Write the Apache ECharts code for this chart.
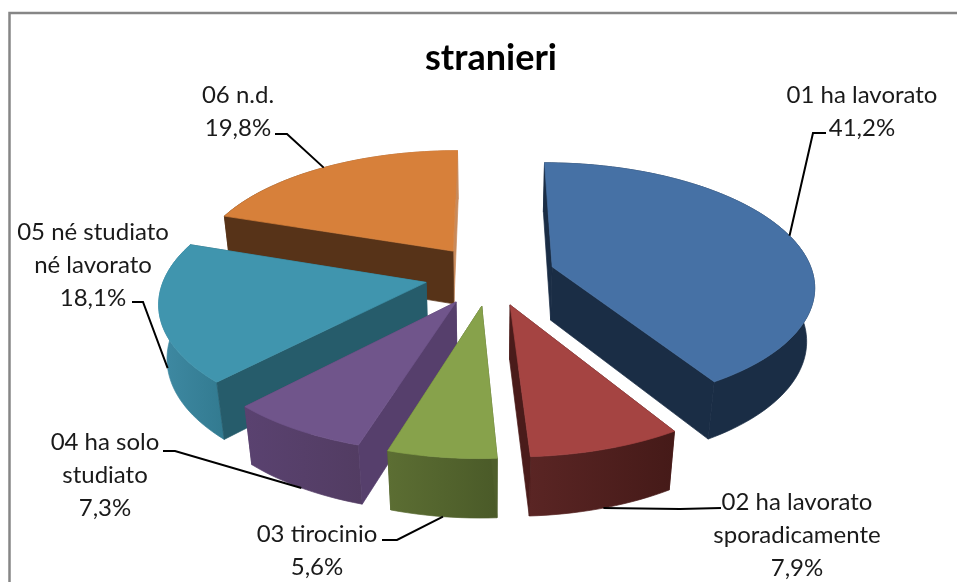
<!DOCTYPE html>
<html>
<head>
<meta charset="utf-8">
<title>stranieri</title>
<script src="https://cdn.jsdelivr.net/npm/echarts@6/dist/echarts.min.js"></script>
<style>
  html, body { margin: 0; padding: 0; background: #fff; }
  #chart { width: 957px; height: 582px; }
</style>
</head>
<body>
<div id="chart"></div>
<script>
// dati
var chartTitle = 'stranieri'
var categories = ['01 ha lavorato', '02 ha lavorato\nsporadicamente', '03 tirocinio', '04 ha solo\nstudiato', '05 né studiato\nné lavorato', '06 n.d.']
var values = [41.2, 7.9, 5.6, 7.3, 18.1, 19.8]

// ordine di disegno, dal fondo verso chi guarda
var drawOrder = [5, 0, 4, 1, 3, 2]

// colori: piano, parete radiale (fronte, retro), parete curva (sx, dx)
var topColors = ['#4671a5', '#a54442', '#87a24b', '#70558b', '#4095ae', '#d7803a']
var wallColors = ['#1a2d45', '#4a1b1a', '#4f5f2c', '#563f6c', '#265c6b', '#573318']
var backWallColors = ['#1a2d45', '#4a1b1a', '#4f5f2c', '#563f6c', '#265c6b', '#c98a5a']
var arcColors = [
  ['#1a2d45', '#1a2d45'],
  ['#5a2524', '#451a18'],
  ['#5c6e33', '#4a5a28'],
  ['#5a4270', '#523c62'],
  ['#3f8aa3', '#327a90'],
  ['#573318', '#c98a5a']
]

// prospettiva della torta
var cx = 490, cy = 275, radiusX = 261, radiusY = 121, depth = 55
var explode = 0.25, perspY = 0.142, perspZ = 0.025

// etichette: centro testo, prima riga, gomito della linea guida
var labelLayout = [
  { x: 862, y: 79, anchorZ: 0, leader: [[826, 133], [813, 133]] },
  { x: 797, y: 486, anchorZ: 1, leader: [[721, 508], [680, 509]] },
  { x: 317, y: 518, anchorZ: 1, leader: [[382, 540], [397, 540]] },
  { x: 105, y: 426, anchorZ: 1, leader: [[163, 451], [175, 451]] },
  { x: 93, y: 216, anchorZ: 1, leader: [[132, 302], [143, 302]] },
  { x: 238, y: 79, anchorZ: 0, leader: [[275, 134], [287, 134]] }
]

var total = values.reduce(function (a, b) { return a + b }, 0)
var startAngles = []
values.reduce(function (sum, v, i) {
  startAngles[i] = sum / total * 2 * Math.PI
  return sum + v
}, 0)

function formatPercent (v) {
  return v.toFixed(1).replace('.', ',') + '%'
}

// da coordinate sul disco (r, angolo da ore 12 in senso orario) allo schermo
function project (i, r, t, z) {
  var mid = startAngles[i] + values[i] / total * Math.PI
  var px = explode * Math.sin(mid) + r * Math.sin(t)
  var py = -explode * Math.cos(mid) - r * Math.cos(t)
  var f = 1 / (1 - perspY * py + perspZ * z)
  return [cx + radiusX * px * f, cy + (radiusY * py + depth * z) * f]
}

function polygon (points, fill, z2) {
  // il bordo dello stesso colore chiude le giunture tra le facce
  return { type: 'polygon', z2: z2, shape: { points: points }, style: { fill: fill, stroke: fill, lineWidth: 0.7 } }
}

function radialWall (i, t, color, z2) {
  return polygon([project(i, 0, t, 0), project(i, 1, t, 0), project(i, 1, t, 1), project(i, 0, t, 1)], color, z2)
}

function renderSlice (params, api) {
  var i = api.value(0)
  var a0 = startAngles[i]
  var a1 = a0 + api.value(1) / total * 2 * Math.PI
  var rank = drawOrder.indexOf(i) * 10
  var steps = Math.max(6, Math.round((a1 - a0) / 0.03))

  var rimTop = [], rimBottom = []
  for (var s = 0; s <= steps; s++) {
    var t = a0 + (a1 - a0) * s / steps
    rimTop.push(project(i, 1, t, 0))
    rimBottom.unshift(project(i, 1, t, 1))
  }

  // la parete piu lontana va sotto
  var backFirst = -Math.cos(a0) < -Math.cos(a1)
  var back = backFirst ? a0 : a1
  var front = backFirst ? a1 : a0

  var arcFill = new echarts.graphic.LinearGradient(0, 0, 1, 0, [
    { offset: 0, color: arcColors[i][0] },
    { offset: 1, color: arcColors[i][1] }
  ])

  var children = [
    radialWall(i, back, backWallColors[i], rank + 1),
    polygon(rimTop.concat(rimBottom), arcFill, rank + 2),
    radialWall(i, front, wallColors[i], rank + 3),
    polygon([project(i, 0, a0, 0)].concat(rimTop), topColors[i], rank + 4)
  ]

  // linea guida ed etichetta
  var lay = labelLayout[i]
  var anchor = project(i, 1, (a0 + a1) / 2, lay.anchorZ)
  children.push({
    type: 'polyline',
    z2: 100,
    shape: { points: lay.leader.concat([anchor]) },
    style: { stroke: '#000', lineWidth: 2, fill: null }
  })
  children.push({
    type: 'text',
    z2: 101,
    style: {
      x: lay.x,
      y: lay.y,
      text: categories[i] + '\n' + formatPercent(api.value(1)),
      align: 'center',
      verticalAlign: 'top',
      fill: '#1a1a1a',
      font: '24px Lato',
      lineHeight: 33
    }
  })
  return { type: 'group', children: children }
}

var myChart = echarts.init(document.getElementById('chart'), null, { renderer: 'canvas' })
var option = {
  backgroundColor: '#fff',
  animation: false,
  title: {
    text: chartTitle,
    left: 486,
    top: 35,
    textAlign: 'center',
    textStyle: { fontFamily: 'Lato', fontWeight: 'bold', fontSize: 36, color: '#000' }
  },
  graphic: [
    // cornice grigia
    {
      type: 'polyline',
      shape: { points: [[9.5, 582], [9.5, 13], [957, 13]] },
      style: { stroke: '#868686', lineWidth: 2.5, fill: null }
    }
  ],
  series: [
    {
      type: 'custom',
      coordinateSystem: 'none',
      renderItem: renderSlice,
      data: drawOrder.map(function (i) { return [i, values[i]] })
    }
  ]
}
myChart.setOption(option)
</script>
</body>
</html>
